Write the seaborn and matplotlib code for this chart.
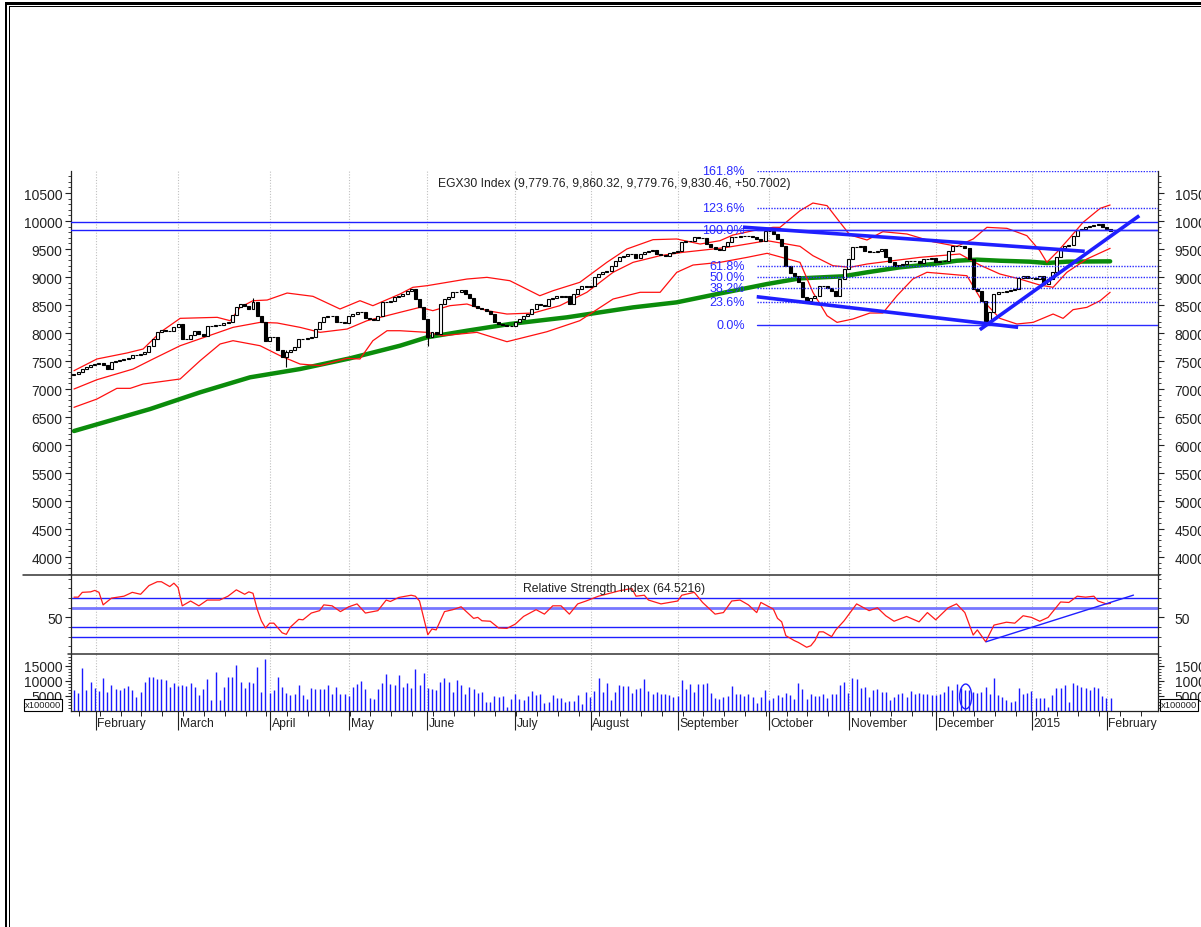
import numpy as np
import pandas as pd
import matplotlib
matplotlib.use("Agg")
import matplotlib.pyplot as plt
import matplotlib.transforms as mtransforms
from matplotlib.patches import Rectangle, Ellipse
import seaborn as sns

sns.set_style("white")
plt.rcParams["font.family"] = ["Liberation Sans", "DejaVu Sans"]

# EGX30 daily closes, one per trading day (late Jan 2014 .. 1 Feb 2015)
closes = [
    7268, 7300, 7350, 7393, 7420, 7440, 7464, 7420, 7357, 7482,
    7500, 7520, 7535, 7548, 7613, 7600, 7630, 7655, 7773, 7893,
    8023, 8059, 8030, 8041, 8100, 8161, 7893, 7893, 7960, 8041,
    7982, 7952, 8130, 8120, 8140, 8148, 8170, 8190, 8320, 8458,
    8518, 8480, 8429, 8559, 8309, 8190, 7863, 7923, 7920, 7700,
    7565, 7655, 7700, 7744, 7893, 7900, 7910, 7923, 8071, 8200,
    8280, 8310, 8300, 8200, 8190, 8179, 8309, 8340, 8369, 8381,
    8262, 8250, 8238, 8309, 8548, 8560, 8577, 8637, 8660, 8696,
    8750, 8786, 8607, 8458, 8250, 7923, 8012, 7982, 8518, 8607,
    8637, 8727, 8738, 8774, 8696, 8619, 8476, 8450, 8429, 8399,
    8339, 8202, 8161, 8150, 8130, 8130, 8190, 8250, 8300, 8339,
    8429, 8518, 8500, 8488, 8607, 8630, 8655, 8640, 8655, 8518,
    8696, 8780, 8845, 8830, 8845, 8994, 9054, 9090, 9113, 9202,
    9291, 9351, 9380, 9411, 9411, 9334, 9411, 9440, 9470, 9488,
    9411, 9400, 9381, 9420, 9452, 9470, 9631, 9640, 9649, 9708,
    9700, 9690, 9589, 9540, 9500, 9488, 9548, 9620, 9708, 9715,
    9726, 9730, 9738, 9708, 9680, 9649, 9827, 9827, 9760, 9679,
    9559, 9202, 9080, 9023, 8905, 8637, 8577, 8620, 8666, 8833,
    8845, 8800, 8756, 8666, 8964, 9143, 9321, 9530, 9540, 9548,
    9470, 9441, 9441, 9470, 9500, 9351, 9262, 9202, 9220, 9232,
    9291, 9290, 9291, 9250, 9321, 9330, 9334, 9262, 9280, 9291,
    9470, 9548, 9550, 9548, 9512, 9321, 8786, 8756, 8577, 8202,
    8369, 8696, 8727, 8740, 8756, 8770, 8786, 8976, 9023, 8990,
    8976, 8964, 9012, 8875, 8964, 9084, 9351, 9512, 9548, 9571,
    9738, 9845, 9860, 9887, 9910, 9929, 9946, 9887, 9857, 9830.46,
]
first_open = 7250

# the few wicks that stick out of the bodies
wick_idx = [43, 51, 85, 219]
wick_low = [8429, 7400, 7773, 8130]
wick_high = [8620, 7700, 8250, 8577]

# daily volume (x100000)
volume = [
    6900, 6100, 14200, 6900, 9700, 7600, 6700, 10900, 6300, 8600,
    7200, 6900, 7600, 8200, 6900, 4700, 6300, 9800, 11300, 11300,
    10600, 10600, 10200, 8000, 9400, 8300, 8600, 8300, 9400, 8000,
    5300, 7200, 10600, 3700, 13100, 3700, 8000, 11400, 11400, 15300,
    9800, 7600, 9800, 9400, 14800, 6400, 17400, 5900, 6900, 11400,
    8100, 5900, 5200, 5600, 8800, 5200, 4100, 7800, 7400, 7200,
    7400, 8800, 5600, 8100, 5800, 5800, 4900, 8100, 9100, 10100,
    7400, 4300, 3900, 7200, 9400, 12200, 8900, 8600, 12100,
    8100, 9200, 7600, 13900, 8700, 12600, 7600, 7200, 6900, 9800,
    11100, 9800, 6300, 10200, 8600, 5600, 8100, 7200, 5900, 6400,
    3000, 3000, 5000, 4800, 4900, 1400, 3900, 5700, 4100, 3800,
    5000, 6700, 5300, 5600, 2600, 3100, 5300, 4400, 4400, 3100,
    3200, 3200, 5300, 2400, 6400, 4800, 6700, 10900, 6400, 9200,
    3700, 6300, 8600, 8300, 8300, 5900, 7400, 7800, 10600, 6700,
    5800, 6400, 5600, 5600, 5300, 4800, 5000, 10300, 7200, 8900,
    6400, 8900, 8900, 9400, 6100, 4400, 4100, 4800, 5000, 8300,
    5600, 5600, 5000, 5600, 4800, 2800, 4800, 6900, 3600, 4400,
    5200, 4800, 6100, 5200, 3900, 9200,
    7200, 4100, 5600, 5000, 5000, 5800, 4200, 5600, 5600, 8600,
    9800, 5900, 10900, 10600, 7600, 8000, 4700, 6900, 7200, 6300,
    6300, 3600, 4800, 5600, 5900, 4700, 6700, 5600, 6100, 5600,
    5600, 5300, 5300, 5600, 6300, 8300, 6900, 8900, 7800, 7000,
    7000, 6400, 5900, 6300, 8100, 5800, 10900, 5200, 4700, 3600,
    3100, 3300, 7600, 5800, 6100, 6700, 4400, 4400, 4400, 1400,
    5200, 7600, 7800, 8600, 3000, 9400, 8600, 8000, 7600, 6900,
    8000, 7600, 5000, 4400, 4400,
]

# Bollinger bands, read at bar positions
bb_up_x = [0, 5.5, 12.7, 16.6, 20.7, 25.5, 34.4, 37.5, 39.9, 43, 46.4, 51.2, 57.4, 63.9,
           68.7, 71.8, 78.3, 81.4, 84.8, 94.4, 99.2, 104.7, 111.9, 115.1, 121.5, 128,
           132.8, 139.1, 144.8, 150.4, 155.2, 158.3, 163.1, 167.9, 169.6, 174.4, 177.5,
           180.9, 184, 186.4, 190.5, 194.3, 200.1, 206.3, 212.1, 216, 219.3, 224.1,
           228.9, 232, 233.7, 236.1, 239.3, 242.4, 246.5, 248.9]
bb_up_y = [7327, 7536, 7643, 7714, 8012, 8262, 8280, 8220, 8458, 8577, 8589, 8714, 8655, 8429,
           8577, 8488, 8696, 8816, 8845, 8964, 8994, 8934, 8666, 8756, 8905, 9262,
           9500, 9667, 9679, 9589, 9649, 9750, 9827, 9887, 9887, 10184, 10321,
           10274, 9976, 9750, 9661, 9809, 9768, 9630, 9548, 9679, 9887, 9869,
           9738, 9470, 9262, 9441, 9708, 9976, 10226, 10286]
bb_mid_x = [0, 5.5, 14.2, 19, 25.5, 38.2, 44.7, 48.8, 54.3, 59.1, 65.6, 70.4, 78.3, 83.1,
            86.2, 90.3, 94.4, 99.2, 104, 110.3, 116.7, 123.2, 129.5, 134.3, 140.8, 146.3,
            152.1, 156.9, 161.7, 166.5, 174.4, 177.5, 182.3, 186.4, 190.5, 196.7, 203.2,
            208, 212.8, 217.6, 222.4, 227.2, 232, 235.2, 238.5, 243.3, 248.9]
bb_mid_y = [7000, 7166, 7357, 7536, 7773, 8101, 8190, 8179, 8101, 8012, 8071, 8220, 8369, 8458,
            8399, 8488, 8518, 8399, 8339, 8357, 8488, 8727, 9084, 9262, 9381, 9441,
            9488, 9530, 9589, 9649, 9548, 9381, 9202, 9173, 9232, 9291, 9351,
            9381, 9411, 9214, 9054, 8964, 8857, 8816, 9084, 9321, 9512]
bb_low_x = [0, 5.5, 10.3, 13.5, 16.6, 25.5, 30.3, 35.1, 38.2, 44.7, 49.5, 54.3, 59.1, 65.6,
            68.7, 71.8, 75.2, 78.3, 84.8, 88.6, 96.8, 104, 113.6, 121.5, 129.5, 136,
            140.8, 144.8, 148.7, 155.2, 161.7, 166.5, 174.4, 177.5, 180.9, 183.3, 187.1,
            191.2, 194.3, 197.7, 201.5, 204.9, 209.7, 214.5, 217.6, 222.4, 226.5, 230.4,
            235.2, 237.6, 240, 243.3, 246.5, 248.9]
bb_low_y = [6673, 6821, 7012, 7012, 7089, 7179, 7506, 7804, 7863, 7773, 7595, 7446, 7417, 7548,
            7536, 7863, 8041, 8041, 8012, 7952, 8012, 7845, 8023, 8220, 8607, 8727,
            8727, 9084, 9214, 9262, 9351, 9423, 9262, 8727, 8309, 8190, 8250,
            8357, 8357, 8666, 8964, 9084, 9054, 9023, 8637, 8262, 8161, 8190,
            8339, 8262, 8417, 8458, 8577, 8727]

# long moving average (green)
ma_x = [0, 18.3, 30.3, 42.3, 54.3, 66.3, 78.3, 84.8, 94.4, 104.7, 118.4, 134.3, 144.8, 154.5,
        166.5, 174.4, 184.7, 190.5, 198.4, 206.3, 212.1, 216.9, 222.4, 229.6, 233.7, 238.5, 248.9]
ma_y = [6250, 6643, 6941, 7209, 7357, 7548, 7773, 7923, 8041, 8161, 8280, 8458, 8548, 8696,
        8875, 8976, 9012, 9084, 9173, 9232, 9291, 9310, 9291, 9274, 9250, 9274, 9280]

# RSI line
rsi_x = [0, 1, 2, 4, 5, 6, 7, 9, 12, 14, 16, 18, 20, 21, 23, 24, 25, 26, 28, 30, 32, 35, 37, 39,
         41, 42, 43, 44, 45, 46, 47, 48, 50, 51, 52, 54, 55, 57, 59, 60, 62, 64, 66, 68, 70, 73,
         75, 76, 78, 81, 82, 83, 85, 86, 87, 89, 91, 93, 96, 97, 98, 100, 102, 104, 106, 108,
         111, 113, 115, 117, 119, 121, 123, 126, 130, 131, 134, 135, 137, 138, 141, 145, 146,
         149, 151, 154, 156, 158, 160, 162, 164, 165, 168, 169, 170, 171, 173, 174, 176, 177,
         178, 179, 180, 182, 183, 185, 188, 191, 193, 195, 197, 200, 203, 205, 207, 210, 212,
         214, 216, 217, 219, 221, 224, 226, 228, 230, 232, 234, 237, 239, 241, 243, 245, 246,
         248, 249]
rsi_y = [71, 71, 76, 76.5, 78, 76, 63, 70, 72, 76, 74, 83, 87, 87, 82, 85.5, 81, 62, 67, 62, 68, 68,
         72, 78.6, 74, 76.5, 75, 58.6, 46.5, 39, 44, 44, 34, 32.4, 40, 48, 47.5, 54.5, 57, 63, 62,
         56, 61, 64, 54.5, 57, 68, 66.5, 70.7, 73, 72, 67, 32, 38, 37, 56, 58, 61, 49, 50, 46.5,
         46, 39, 38.6, 43, 51, 58, 53.4, 62, 62, 53.4, 64, 67, 72, 76.5, 77.6, 80, 72, 73, 68,
         64, 67, 73, 76, 65.5, 53.4, 55, 67, 68, 63, 55, 65.5, 58.6, 49, 45.4, 31, 26, 24, 19,
         20.6, 26, 35, 35, 30, 37, 46.5, 64, 57, 60, 51.7, 46, 51, 45.4, 55, 47.5, 60, 64, 55,
         31.7, 37, 24.7, 42, 45, 44, 51.7, 50, 46, 50, 66, 65.5, 72, 71, 72, 67, 64, 64.5]
rsi_levels = [30, 40, 60, 70]

# Fibonacci retracement drawn from the December low to the September high
fib_levels = [0.0, 23.6, 38.2, 50.0, 61.8, 100.0, 123.6, 161.8]
fib_low, fib_high = 8150, 9840
fib_start = 164

# horizontal resistance lines and hand drawn trend lines (bar, value)
resist = [9976, 9839]
chan_top = ([160.7, 242.8], [9890, 9459])
chan_bot = ([164.0, 226.8], [8648, 8102])
rise_line = ([217.6, 255.9], [8059, 10095])
rsi_trend = ([219.1, 254.5], [24.7, 73.1])

month_labels = ['February', 'March', 'April', 'May', 'June', 'July', 'August',
                'September', 'October', 'November', 'December', '2015', 'February']
month_pos = [5.2, 25.1, 47.1, 66.1, 84.8, 105.9, 124.1, 145.1, 167.0, 186.2, 207.1, 230.1, 248.1]

df = pd.DataFrame({'close': closes, 'volume': volume})
df['open'] = df['close'].shift(1).fillna(first_open)

W, H = 1201, 928
fig = plt.figure(figsize=(W / 100, H / 100), dpi=100)
x0, x1 = 71 / W, (1158 - 71) / W
ax = fig.add_axes([x0, (H - 576) / H, x1, 404 / H])
ar = fig.add_axes([x0, (H - 655) / H, x1, 79 / H])
av = fig.add_axes([x0, (H - 712) / H, x1, 57 / H])

xlim = (-0.72, 260.4)
blue = '#1f1fff'
fib_col = '#2a2aff'
shift_right = mtransforms.ScaledTranslation(6 / 72, 0, fig.dpi_scale_trans)

for a in (ax, ar, av):
    a.set_xlim(*xlim)
    a.set_facecolor('none')
    for s in a.spines.values():
        s.set_color('#222222')
        s.set_linewidth(0.9)
    a.spines['top'].set_visible(False)
    a.spines['bottom'].set_visible(False)
    for p in month_pos:
        a.axvline(p, color='#c0c0c0', lw=0.8, ls=(0, (1, 1.5)), zorder=0)
    a.tick_params(axis='y', which='both', left=True, right=True, labelleft=True,
                  labelright=True, direction='out', labelsize=10, pad=1.5,
                  colors='#222222')
    a.tick_params(axis='y', which='major', length=4.5, width=0.8)
    a.tick_params(axis='y', which='minor', length=2.5, width=0.6)
    a.set_xticks([])
av.spines['bottom'].set_visible(True)

# ---- main price panel
ax.set_ylim(3679, 10893)
ax.set_yticks(np.arange(4000, 10501, 500))
ax.set_yticks(np.arange(3700, 10900, 100), minor=True)

sns.lineplot(x=ma_x, y=ma_y, ax=ax, color='#0b8c0b', lw=3.2, zorder=2)
for bx, by in ((bb_up_x, bb_up_y), (bb_mid_x, bb_mid_y), (bb_low_x, bb_low_y)):
    sns.lineplot(x=bx, y=by, ax=ax, color='#ff1010', lw=0.9, zorder=3)

ax.vlines(wick_idx, wick_low, wick_high, color='black', lw=0.8, zorder=3)
up = df[df['close'] >= df['open']]
dn = df[df['close'] < df['open']]
ax.bar(up.index, up['close'] - up['open'], bottom=up['open'], width=0.72,
       color='white', edgecolor='black', linewidth=0.8, zorder=4)
ax.bar(dn.index, dn['open'] - dn['close'], bottom=dn['close'], width=0.72,
       color='black', edgecolor='black', linewidth=0.8, zorder=4)

for r in resist:
    ax.axhline(r, color=blue, lw=1.0, zorder=5)
for lvl in fib_levels:
    val = fib_low + (fib_high - fib_low) * lvl / 100
    solid = lvl in (0.0, 100.0)
    ax.plot([fib_start, xlim[1]], [val, val], color=fib_col, lw=1.0,
            ls='-' if solid else (0, (1, 1)), zorder=5)
    ax.text(fib_start - 2.8, val, f'{lvl:.1f}%', ha='right', va='center',
            color=fib_col, fontsize=9, zorder=6)
for lx, ly in (chan_top, chan_bot, rise_line):
    ax.plot(lx, ly, color=blue, lw=2.6, solid_capstyle='butt', zorder=6)

ax.text(0.5, 0.97, 'EGX30 Index (9,779.76, 9,860.32, 9,779.76, 9,830.46, +50.7002)',
        transform=ax.transAxes, ha='center', va='center', fontsize=8.7, color='#222222')
ax.set_xlabel('')
ax.set_ylabel('')

# ---- RSI panel
ar.set_ylim(12, 94)
ar.set_yticks([50])
ar.set_yticks(np.arange(20, 91, 10), minor=True)
for lv in rsi_levels:
    if lv == 60:
        ar.axhline(lv, color='#7777ff', lw=2.0, zorder=1)
    else:
        ar.axhline(lv, color=blue, lw=1.0, zorder=1)
sns.lineplot(x=rsi_x, y=rsi_y, ax=ar, color='#ff1a1a', lw=0.9, zorder=3)
ar.plot(rsi_trend[0], rsi_trend[1], color=blue, lw=1.0, zorder=4)
ar.text(0.5, 0.835, 'Relative Strength Index (64.5216)', transform=ar.transAxes,
        ha='center', va='center', fontsize=8.7, color='#222222')
ar.set_xlabel('')
ar.set_ylabel('')

# ---- volume panel
av.set_ylim(0, 19000)
av.set_yticks([5000, 10000, 15000])
av.set_yticks(np.arange(1000, 19000, 1000), minor=True)
av.vlines(df.index, 0, df['volume'], color='#1a1aff', lw=1.0, zorder=3)
av.add_patch(Ellipse((214.2, 4833), 2.9, 8300, fill=False, edgecolor=blue, lw=1.0, zorder=4))
av.set_xticks(month_pos)
av.set_xticks(np.arange(1.2, 260, 5), minor=True)
av.tick_params(axis='x', which='major', bottom=True, length=14, width=0.8,
               direction='out', labelbottom=False, colors='#222222')
av.tick_params(axis='x', which='minor', bottom=True, length=3.5, width=0.7,
               direction='out', colors='#222222')
for p, lab in zip(month_pos, month_labels):
    av.annotate(lab, xy=(p, 0), xycoords=('data', 'axes fraction'), xytext=(1.2, -8.6),
                textcoords='offset points', ha='left', va='center', fontsize=8.7,
                color='#222222')

# right-hand price labels sit a little further from the spine
for a in (ax, ar, av):
    for t in a.yaxis.get_major_ticks():
        t.label2.set_transform(t.label2.get_transform() + shift_right)

# ---- page frame, panel separators and the x100000 boxes
ov = fig.add_axes([0, 0, 1, 1], zorder=10)
ov.patch.set_alpha(0)
ov.set_xlim(0, W)
ov.set_ylim(H, 0)
ov.axis('off')
ov.plot([23, 1160], [576, 576], color='#333333', lw=1.1)
ov.plot([68, 1158], [655, 655], color='#333333', lw=1.1)
ov.add_patch(Rectangle((4.7, 3.3), W, 2.8, color='black', lw=0))
ov.add_patch(Rectangle((9, 7.4), W, 1.0, color='black', lw=0))
ov.add_patch(Rectangle((4.7, 3.3), 2.7, H, color='black', lw=0))
ov.add_patch(Rectangle((9, 7.4), 1.3, H, color='black', lw=0))
for bx in (24, 1160):
    ov.add_patch(Rectangle((bx, 699.5), 37.5, 12, facecolor='white', edgecolor='black', lw=0.8))
    ov.text(bx + 18.75, 705.8, 'x100000', ha='center', va='center', fontsize=6.8, color='#222222')

fig.savefig('out.png', dpi=100, facecolor='white')
